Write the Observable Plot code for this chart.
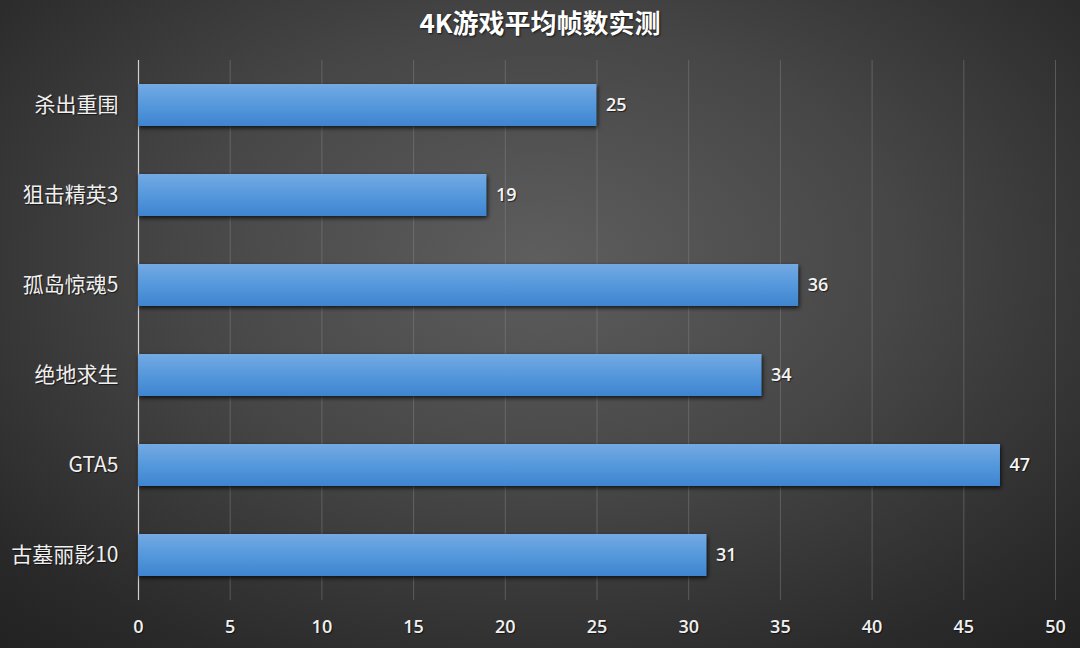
<!DOCTYPE html>
<html><head><meta charset="utf-8">
<script src="https://cdn.jsdelivr.net/npm/d3@7"></script>
<script src="https://cdn.jsdelivr.net/npm/@observablehq/plot@0.6"></script>
<style>
html,body{margin:0;padding:0;}
#wrap{width:1080px;height:648px;background:radial-gradient(ellipse 75% 80% at 50% 40%, #5e5e5e 0%, #464646 45%, #2a2a2a 85%, #222 100%);position:relative;overflow:hidden;}
#title{height:55px;padding-top:3px;box-sizing:border-box;line-height:52px;text-align:center;color:#fff;font:bold 26px "Noto Sans CJK SC",sans-serif;text-shadow:1px 1px 2px rgba(0,0,0,0.7);}
.bars{filter:drop-shadow(1px 2px 2px rgba(0,0,0,0.75));}
svg text{text-shadow:1px 1px 1px rgba(0,0,0,0.6);}
</style></head>
<body><div id="wrap"><div id="title">4K游戏平均帧数实测</div><div id="chart"></div></div>
<script>
const games = ["杀出重围","狙击精英3","孤岛惊魂5","绝地求生","GTA5","古墓丽影10"];
const fps = [25, 19, 36, 34, 47, 31];
const xTicks = [0,5,10,15,20,25,30,35,40,45,50];

const data = games.map((g,i)=>({game:g, fps:fps[i]}));

const defs = () => {
  const d = d3.create("svg:defs");
  const lg = d.append("linearGradient").attr("id","barGrad").attr("x1",0).attr("y1",0).attr("x2",0).attr("y2",1);
  lg.append("stop").attr("offset","0%").attr("stop-color","#74aae3");
  lg.append("stop").attr("offset","50%").attr("stop-color","#5598dc");
  lg.append("stop").attr("offset","100%").attr("stop-color","#3e84cf");
  return d.node();
};

const chart = Plot.plot({
  width: 1080,
  height: 593,
  marginLeft: 138,
  marginRight: 25,
  marginTop: 5,
  marginBottom: 48,
  style: {background: "transparent", color: "#f0f0f0", fontFamily: "'Noto Sans CJK SC', sans-serif", overflow: "visible"},
  x: {domain: [0, 50], ticks: xTicks},
  y: {domain: games, paddingInner: 0.53, paddingOuter: 0.265},
  marks: [
    defs,
    Plot.gridX(xTicks.slice(1), {stroke: "#8a8a8a", strokeOpacity: 0.45, strokeWidth: 1}),
    Plot.ruleX([0], {stroke: "#d0d0d0", strokeWidth: 1.2}),
    Plot.barX(data, {y: "game", x: "fps", fill: "url(#barGrad)", className: "bars"}),
    Plot.text(data, {y: "game", x: "fps", text: d => String(d.fps), dx: 9, textAnchor: "start", fill: "#f4f4f4", fontSize: 18, fontFamily: "'Open Sans', sans-serif", fontWeight: 600}),
    Plot.axisX({ticks: xTicks, tickSize: 0, tickPadding: 20, label: null, fontSize: 18, fill: "#f0f0f0", fontFamily: "'Open Sans', sans-serif", fontWeight: 600}),
    Plot.axisY({tickSize: 0, tickPadding: 20, label: null, fontSize: 21, fill: "#f0f0f0"})
  ]
});
document.getElementById("chart").appendChild(chart);
</script></body></html>
